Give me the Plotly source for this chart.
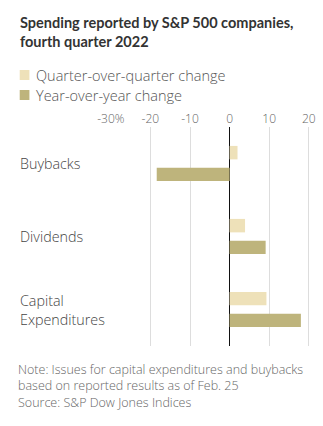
import plotly.graph_objects as go

categories = ["Buybacks", "Dividends", "Capital<br>Expenditures"]
qoq_change = [2.0, 3.9, 9.3]
yoy_change = [-18.4, 9.1, 18.0]
tick_values = [-30, -20, -10, 0, 10, 20]
tick_labels = ["-30%", "-20", "-10", "0", "10", "20"]

QOQ_COLOR = "#EEE1B9"
YOY_COLOR = "#BEB47C"
FONT = "Open Sans"
TITLE_FONT = "Lato"

W, H = 323, 426
L, R, T, B = 110, 7, 127, 80
plot_w = W - L - R
plot_h = H - T - B


def px_x(px):
    return (px - L) / plot_w


def px_y(py):
    return (H - B - py) / plot_h


fig = go.Figure()
fig.add_trace(go.Bar(y=categories, x=qoq_change, orientation="h",
                     marker=dict(color=QOQ_COLOR, line=dict(width=0)),
                     name="Quarter-over-quarter change"))
fig.add_trace(go.Bar(y=categories, x=yoy_change, orientation="h",
                     marker=dict(color=YOY_COLOR, line=dict(width=0)),
                     name="Year-over-year change"))

annotations = [
    dict(text="<b>Spending reported by S&P 500 companies,<br>fourth quarter 2022</b>",
         x=px_x(15), y=px_y(12), xanchor="left", yanchor="top", align="left",
         font=dict(family=TITLE_FONT, size=14.5, color="#333333")),
    dict(text="Quarter-over-quarter change", x=px_x(32), y=px_y(75),
         xanchor="left", yanchor="middle",
         font=dict(family=FONT, size=14.5, color="#555555", weight=300)),
    dict(text="Year-over-year change", x=px_x(32), y=px_y(95),
         xanchor="left", yanchor="middle",
         font=dict(family=FONT, size=14.5, color="#555555", weight=300)),
    dict(text="Note: Issues for capital expenditures and buybacks<br>"
              "based on reported results as of Feb. 25<br>"
              "Source: S&P Dow Jones Indices",
         x=px_x(13), y=px_y(359), xanchor="left", yanchor="top", align="left",
         font=dict(family=FONT, size=12.5, color="#666666", weight=300)),
]
for i, cat in enumerate(categories):
    annotations.append(dict(text=cat, x=px_x(15), y=cat, yref="y",
                            xanchor="left", yanchor="middle", align="left",
                            font=dict(family=FONT, size=14.3, color="#444444",
                                      weight=300)))
for a in annotations:
    a.setdefault("xref", "paper")
    a.setdefault("yref", "paper")
    a["showarrow"] = False

shapes = [
    dict(type="rect", xref="paper", yref="paper", x0=px_x(17), x1=px_x(27),
         y0=px_y(80), y1=px_y(70), fillcolor=QOQ_COLOR, line=dict(width=0)),
    dict(type="rect", xref="paper", yref="paper", x0=px_x(17), x1=px_x(27),
         y0=px_y(100), y1=px_y(90), fillcolor=YOY_COLOR, line=dict(width=0)),
]

fig.update_layout(
    width=W, height=H,
    margin=dict(l=L, r=R, t=T, b=B),
    paper_bgcolor="white", plot_bgcolor="white",
    barmode="group", bargap=0.405, bargroupgap=0.38,
    showlegend=False,
    annotations=annotations, shapes=shapes,
    xaxis=dict(side="top", range=[-30.2, 20.3], tickvals=tick_values,
               ticktext=tick_labels, showgrid=True, gridcolor="#DDDDDD",
               gridwidth=1, zeroline=True, zerolinecolor="#111111",
               zerolinewidth=1, ticks="", showline=False,
               ticklabelstandoff=1,
               tickfont=dict(family=FONT, size=12, color="#666666", weight=300)),
    yaxis=dict(autorange="reversed", showticklabels=False, showgrid=False,
               zeroline=False, showline=False, ticks=""),
)

fig.write_html("out.html")
